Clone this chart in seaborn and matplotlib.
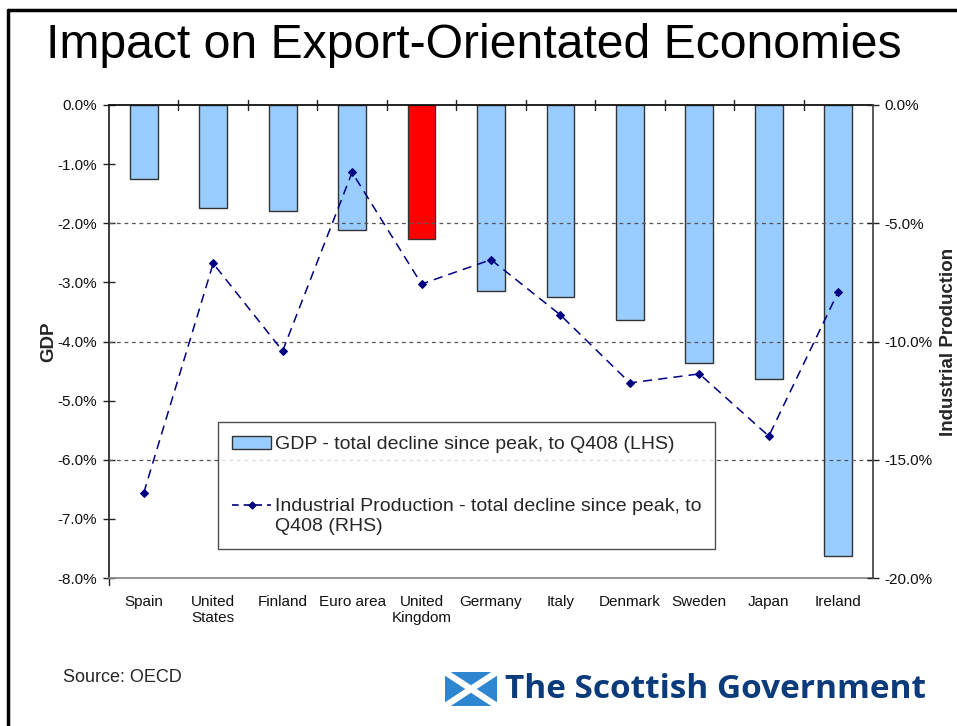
import numpy as np
import matplotlib
matplotlib.use("Agg")
import matplotlib.pyplot as plt
import seaborn as sns
from matplotlib.patches import Rectangle
from matplotlib.lines import Line2D
from matplotlib.ticker import FixedLocator, FuncFormatter

sns.set_theme(style="white")
plt.rcParams["font.family"] = ["Liberation Sans", "DejaVu Sans"]

# Data: decline since peak, to Q4 2008 (%)
countries = ["Spain", "United\nStates", "Finland", "Euro area", "United\nKingdom",
             "Germany", "Italy", "Denmark", "Sweden", "Japan", "Ireland"]
gdp_decline = [-1.26, -1.75, -1.79, -2.12, -2.26, -3.14, -3.24, -3.64, -4.37, -4.64, -7.63]
ip_decline = [-16.4, -6.7, -10.4, -2.85, -7.57, -6.54, -8.88, -11.75, -11.37, -14.0, -7.9]
highlight = "United\nKingdom"

left_ticks = [0, -1, -2, -3, -4, -5, -6, -7, -8]
right_ticks = [0, -5, -10, -15, -20]

bar_blue = "#99CCFF"
bar_red = "#FF0000"
navy = "#000080"

W, H = 957, 726
fig = plt.figure(figsize=(W / 100, H / 100), dpi=100)
ax = fig.add_axes([109 / W, 1 - 578 / H, (873 - 109) / W, (578 - 105) / H])

palette = {c: (bar_red if c == highlight else bar_blue) for c in countries}
sns.barplot(x=countries, y=gdp_decline, hue=countries, palette=palette, legend=False,
            width=0.4, edgecolor="#333333", linewidth=1.0, saturation=1, ax=ax, zorder=2)

ax.set_ylim(-8, 0)
ax.set_xlim(-0.5, len(countries) - 0.5)
ax.yaxis.set_major_locator(FixedLocator(left_ticks))
ax.yaxis.set_major_formatter(FuncFormatter(lambda v, p: f"{v:.1f}%"))
ax.tick_params(axis="y", which="major", direction="inout", length=9, width=1,
               color="#222222", labelsize=11, pad=4, left=True, labelcolor="#111111")
ax.set_ylabel("GDP", fontsize=13.5, fontweight="bold")
ax.yaxis.set_label_coords((57 - 109) / 764, 0.5)

# Category labels along the bottom, boundary ticks across the zero line at the top
ax.set_xticks(range(len(countries)))
ax.set_xticklabels(countries, fontsize=11, linespacing=1.2)
ax.tick_params(axis="x", bottom=False, top=False, pad=6, labelcolor="#111111")
for b in np.arange(0.5, len(countries) - 0.5, 1.0):
    ax.plot([b, b], [-0.085, 0.085], color="#222222", lw=1, clip_on=False, zorder=3)

for sp in ["left", "top", "bottom"]:
    ax.spines[sp].set_visible(True)
ax.spines["left"].set_color("#222222")
ax.spines["top"].set_color("#111111")
ax.spines["top"].set_linewidth(1.3)
ax.spines["bottom"].set_color("#888888")
ax.spines["right"].set_visible(False)
ax.plot([-0.5, -0.5], [-8, -8.12], color="#222222", lw=1, clip_on=False)

for gy in [-2, -4, -6]:
    ax.axhline(gy, color="#555555", lw=0.9, ls=(0, (3, 3)), zorder=3)

ax2 = ax.twinx()
sns.lineplot(x=np.arange(len(countries)), y=ip_decline, ax=ax2, color=navy,
             linestyle=(0, (6, 4)), lw=1.1, marker="D", markersize=4.5,
             markeredgecolor=navy, zorder=5)
ax2.set_ylim(-20, 0)
ax2.yaxis.set_major_locator(FixedLocator(right_ticks))
ax2.yaxis.set_major_formatter(FuncFormatter(lambda v, p: f"{v:.1f}%"))
ax2.tick_params(axis="y", direction="inout", length=9, width=1, color="#222222",
                labelsize=11, pad=4, right=True, labelcolor="#111111")
ax2.set_ylabel("Industrial Production", fontsize=13.5, fontweight="bold")
ax2.yaxis.set_label_coords((940 - 109) / 764, 0.5)
for sp in ["left", "top", "bottom"]:
    ax2.spines[sp].set_visible(False)
ax2.spines["right"].set_visible(True)
ax2.spines["right"].set_color("#444444")
ax2.grid(False)
ax.grid(False)

# Legend
handles = [
    Rectangle((0, 0), 1, 1, facecolor=bar_blue, edgecolor="#333333", lw=1.0),
    Line2D([0], [0], color=navy, linestyle=(0, (4, 3)), lw=1.2, marker="D",
           markersize=3.5),
]
labels = ["GDP - total decline since peak, to Q408 (LHS)",
          "Industrial Production - total decline since peak, to\nQ408 (RHS)"]
leg = ax2.legend(handles, labels, loc="upper left",
                 bbox_to_anchor=((218 - 109) / 764, (578 - 422) / 473),
                 fontsize=14, frameon=True, fancybox=False, edgecolor="#222222",
                 handlelength=2.05, handleheight=0.65, handletextpad=0.2,
                 labelspacing=2.35, borderpad=0.7, borderaxespad=0)
leg.get_frame().set_linewidth(1.0)
leg.set_zorder(10)
# keep each key level with the first line of its label
try:
    for col in leg._legend_handle_box.get_children():
        for item in col.get_children():
            item.align = "top"
except AttributeError:
    pass

# Title and slide furniture
fig.text(474 / W, 1 - 58 / H, "Impact on Export-Orientated Economies", ha="center",
         va="baseline", fontsize=34.7, color="black")
fig.text(63 / W, 1 - 678 / H, "Source: OECD", ha="left", va="center", fontsize=13)

fig.add_artist(Line2D([8 / W, 8 / W], [0, 1 - 10 / H], color="black", lw=2.5))
fig.add_artist(Line2D([8 / W, 1], [1 - 10 / H, 1 - 10 / H], color="black", lw=2.5))

# Logo: saltire and wordmark
fx0, fx1, fy0, fy1 = 445 / W, 497 / W, 1 - 706 / H, 1 - 672 / H
fig.add_artist(Rectangle((fx0, fy0), fx1 - fx0, fy1 - fy0, facecolor="#2E86D1",
                         edgecolor="none", transform=fig.transFigure))
fig.add_artist(Line2D([fx0, fx1], [fy0, fy1], color="white", lw=4.5))
fig.add_artist(Line2D([fx0, fx1], [fy1, fy0], color="white", lw=4.5))
fig.text(505 / W, 1 - 690 / H, "The Scottish Government", ha="left", va="center",
         fontsize=24, color="#0B3B7A", fontweight="bold",
         family=["Open Sans", "DejaVu Sans"])

fig.savefig("out.png", dpi=100, facecolor="white")
